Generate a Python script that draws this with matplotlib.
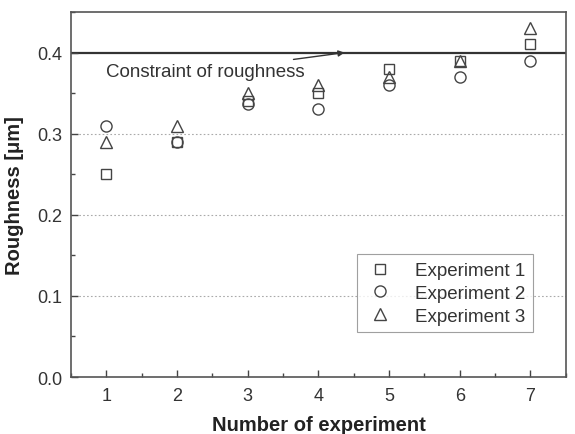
import matplotlib
matplotlib.use("Agg")
import matplotlib.pyplot as plt
from matplotlib.ticker import MultipleLocator

plt.rcParams['font.family'] = ['Liberation Sans', 'DejaVu Sans']

experiments = [1, 2, 3, 4, 5, 6, 7]
exp1 = [0.25, 0.29, 0.34, 0.35, 0.38, 0.39, 0.41]
exp2 = [0.31, 0.29, 0.337, 0.33, 0.36, 0.37, 0.39]
exp3 = [0.29, 0.31, 0.35, 0.36, 0.37, 0.39, 0.43]
constraint = 0.4
labels = ['Experiment 1', 'Experiment 2', 'Experiment 3']

col = '#444444'
fig = plt.figure(figsize=(5.75, 4.35), dpi=100)
ax = fig.add_axes([0.1235, 0.131, 0.8605, 0.839])

for y in [0.1, 0.2, 0.3]:
    ax.axhline(y, color='#aaaaaa', lw=0.8, ls=(0, (1.5, 2)), zorder=0)
ax.axhline(constraint, color='#333333', lw=1.6, zorder=1)

ms = 8
ax.plot(experiments, exp1, ls='none', marker='s', mfc='none', mec=col, mew=1.0, ms=ms - 0.5, label=labels[0])
ax.plot(experiments, exp2, ls='none', marker='o', mfc='none', mec=col, mew=1.0, ms=ms, label=labels[1])
ax.plot(experiments, exp3, ls='none', marker='^', mfc='none', mec=col, mew=1.0, ms=ms + 0.5, label=labels[2])

ax.annotate('Constraint of roughness', xy=(4.37, constraint), xytext=(3.8, 0.377),
            ha='right', va='center', fontsize=13.5, color='#333333',
            arrowprops=dict(arrowstyle='-|>', color='#333333', lw=1.0, mutation_scale=9,
                            shrinkA=3, shrinkB=0))

ax.set_xlim(0.5, 7.5)
ax.set_ylim(0.0, 0.45)
ax.set_xticks(experiments)
ax.set_yticks([0.0, 0.1, 0.2, 0.3, 0.4])
ax.xaxis.set_minor_locator(MultipleLocator(0.5))
ax.yaxis.set_minor_locator(MultipleLocator(0.05))
ax.tick_params(which='both', direction='in', color=col, labelcolor='#333333', labelsize=13)
ax.tick_params(which='major', length=5, width=1)
ax.tick_params(which='minor', length=3, width=1)
ax.tick_params(axis='x', pad=7)
ax.tick_params(axis='y', pad=6)
for s in ax.spines.values():
    s.set_color('#555555')
    s.set_linewidth(1.2)

ax.set_xlabel('Number of experiment', fontsize=14.5, fontweight='bold', color='#222222', labelpad=8)
ax.set_ylabel('Roughness [μm]', fontsize=14.5, fontweight='bold', color='#222222', labelpad=10)

leg = ax.legend(loc='lower right', bbox_to_anchor=(0.933, 0.123), borderaxespad=0,
                fontsize=13.5, frameon=True, fancybox=False, edgecolor='#888888',
                handletextpad=1.0, borderpad=0.4, labelspacing=0.3, handlelength=1.7)
leg.get_frame().set_linewidth(0.8)
for t in leg.get_texts():
    t.set_color('#333333')

fig.savefig('out.png', dpi=100)
